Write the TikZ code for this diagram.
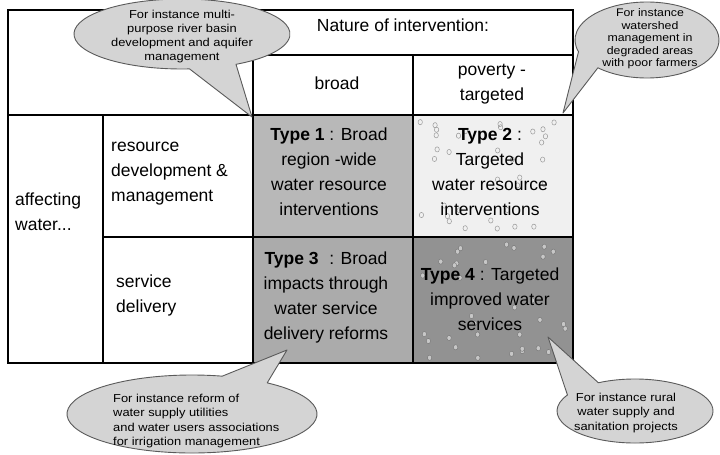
\documentclass[tikz,border=0pt]{standalone}
\usepackage{fontspec}
\setmainfont{Liberation Sans}
\newfontfamily\bubfont[FakeStretch=1.12]{Liberation Sans}
\usetikzlibrary{calc}
\definecolor{typeone}{HTML}{B8B8B8}
\definecolor{typetwo}{HTML}{F0F0F0}
\definecolor{typethree}{HTML}{ABABAB}
\definecolor{typefour}{HTML}{929292}
\definecolor{bubfill}{HTML}{D4D4D4}
\definecolor{bubline}{HTML}{5A5A5A}
\tikzset{
  celltxt/.style={font=\fontsize{17.5}{25}\selectfont, align=center, inner sep=0pt},
  lefttxt/.style={font=\fontsize{17.5}{25}\selectfont, align=left, anchor=west, inner sep=0pt},
  bubtxt/.style={font=\bubfont\fontsize{11.5}{14}\selectfont, align=center, inner sep=0pt},
  bubble/.style={fill=bubfill, draw=bubline, line width=0.9pt, line join=round},
  gridline/.style={line width=1.3pt, black},
  thickline/.style={line width=2.6pt, black},
  droplight/.style={draw=black!40, line width=0.5pt},
  dropdark/.style={fill=black!22, draw=black!55, line width=0.4pt},
}
\begin{document}
\begin{tikzpicture}[x=1pt,y=-1pt]
\useasboundingbox (0,0) rectangle (720,455);
% cell fills
\fill[typeone]   (253,115) rectangle (413,237);
\fill[typetwo]   (413,115) rectangle (573,237);
\fill[typethree] (253,237) rectangle (413,363);
\fill[typefour]  (413,237) rectangle (573,363);
% water drops
\pgfmathsetseed{17}
\foreach \i in {1,...,34}{
  \pgfmathsetmacro\dx{419+148*rnd}
  \pgfmathsetmacro\dy{120+112*rnd}
  \draw[droplight] (\dx,\dy) circle[x radius=2.2, y radius=2.6];
}
\foreach \i in {1,...,34}{
  \pgfmathsetmacro\dx{419+148*rnd}
  \pgfmathsetmacro\dy{242+116*rnd}
  \filldraw[dropdark] (\dx,\dy) circle[x radius=2.2, y radius=2.6];
}
% grid
\draw[gridline] (8,10) rectangle (573,363);
\draw[gridline] (253,55) -- (573,55);
\draw[gridline] (8,115) -- (573,115);
\draw[gridline] (103,237) -- (573,237);
\draw[gridline] (103,115) -- (103,363);
\draw[gridline] (413,55) -- (413,363);
\draw[thickline] (253,10) -- (253,363);
% texts
\node[celltxt] (nature) at (403,25) {Nature of intervention:};
\node[celltxt] (broad) at (337,83) {broad};
\node[celltxt] (poverty) at (492,84) {poverty -\\targeted};
\node[lefttxt] (affect) at (15,212) {affecting\\water...};
\node[lefttxt] (resource) at (111,174) {resource\\development \&\\management};
\node[lefttxt] (service) at (116,295) {service\\delivery};
\node[celltxt] (t1) at (329,172) {\textbf{Type 1} : Broad\\region -wide\\water resource\\interventions};
\node[celltxt] (t2) at (490,172) {\textbf{Type 2} :\\Targeted\\water resource\\interventions};
\node[celltxt] (t3) at (326,297) {\textbf{Type 3}\,\, : Broad\\impacts through\\water service\\delivery reforms};
\node[celltxt] (t4) at (490,299) {\textbf{Type 4} : Targeted\\improved water\\services};
% callouts
\coordinate (cTL) at (182,34);
\coordinate (tipTL) at (252,117);
\filldraw[bubble] (tipTL) -- ($(cTL)+(86:108 and 35)$) arc[start angle=86, end angle=420, x radius=108, y radius=35] -- cycle;
\node[bubtxt] (bTL) at (182,37) {For instance multi-\\purpose river basin\\development and aquifer\\management};

\coordinate (cTR) at (647,40);
\coordinate (tipTR) at (563,113);
\filldraw[bubble] (tipTR) -- ($(cTR)+(133:72 and 38)$) arc[start angle=133, end angle=-198, x radius=72, y radius=38] -- cycle;
\node[bubtxt, font=\bubfont\fontsize{11}{12.5}\selectfont] (bTR) at (650,39) {For instance\\watershed\\management in\\degraded areas\\with poor farmers};

\coordinate (cBL) at (192,414);
\coordinate (tipBL) at (287,350);
\filldraw[bubble] (tipBL) -- ($(cBL)+(-53:125 and 39)$) arc[start angle=-53, end angle=284, x radius=125, y radius=39] -- cycle;
\node[bubtxt, align=left, anchor=west, font=\bubfont\fontsize{11.5}{14.5}\selectfont] (bBL) at (113,421) {For instance reform of\\water supply utilities\\and water users associations\\for irrigation management};

\coordinate (cBR) at (635,411);
\coordinate (tipBR) at (548,337);
\filldraw[bubble] (tipBR) -- ($(cBR)+(-118:78 and 32)$) arc[start angle=-118, end angle=210, x radius=78, y radius=32] -- cycle;
\node[bubtxt, font=\bubfont\fontsize{11.5}{14.5}\selectfont] (bBR) at (626,413) {For instance rural\\water supply and\\sanitation projects};
\end{tikzpicture}
\end{document}
